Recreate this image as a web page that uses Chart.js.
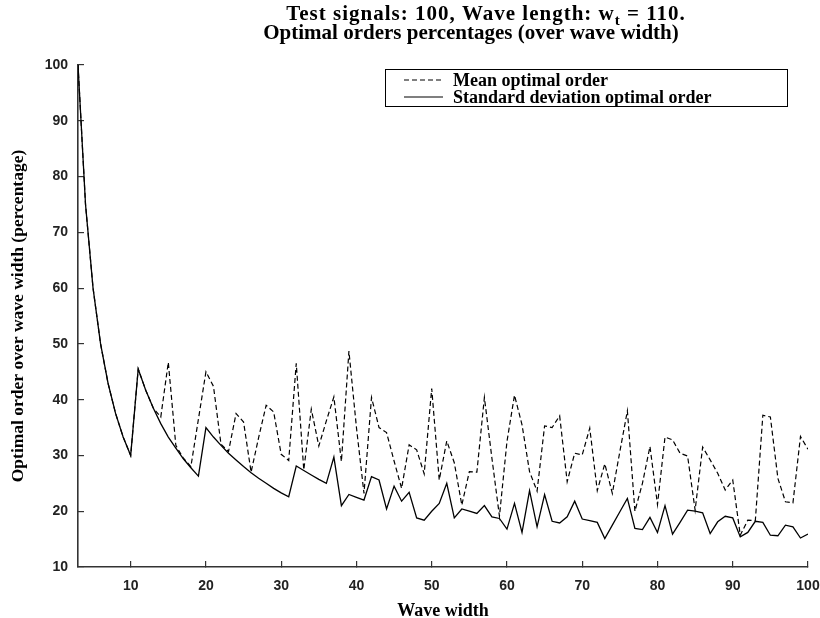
<!DOCTYPE html>
<html><head><meta charset="utf-8">
<script src="https://cdn.jsdelivr.net/npm/chart.js@4.4.1/dist/chart.umd.min.js"></script>
<style>html,body{margin:0;padding:0;background:#fff;}#wrap{width:820px;height:618px;}</style>
</head><body><div id="wrap"><canvas id="c" width="820" height="618"></canvas></div>
<script>
// ---- data ----
const waveWidths = [3,4,5,6,7,8,9,10,11,12,13,14,15,16,17,18,19,20,21,22,23,24,25,26,27,28,29,30,31,32,33,34,35,36,37,38,39,40,41,42,43,44,45,46,47,48,49,50,51,52,53,54,55,56,57,58,59,60,61,62,63,64,65,66,67,68,69,70,71,72,73,74,75,76,77,78,79,80,81,82,83,84,85,86,87,88,89,90,91,92,93,94,95,96,97,98,99,100];
const meanOrder = [100,75,60,50,42.9,37.5,33.3,30,45.5,41.7,38.5,36.9,46.7,31.8,29.5,28,36.5,45,42.4,32,30.7,37.5,36,27,33.2,39,37.8,30.2,29.1,46.5,27.4,38.3,31.7,36.2,40.5,28.9,48.7,35,23.2,40.4,35,34.1,29,24.1,31.9,31,26.7,42,25.6,32.6,28.7,21.1,27.1,27,40.4,29.5,19.1,32.5,40.8,35.5,27.1,23.6,35.3,35,37.1,25.3,30.4,30.1,34.9,23.7,28.5,23.2,30.7,38,20,25,31.6,21.2,33.3,32.8,30.4,29.9,20.2,31.5,29.2,26.8,23.8,25.6,15.7,18.4,18.3,37.2,36.9,25.9,21.7,21.5,33.4,31.1];
const stdOrder = [100,75,60,50,42.9,37.5,33.3,30,45.5,41.7,38.5,35.7,33.3,31.3,29.4,27.8,26.3,35,33.3,31.8,30.4,29.2,28,26.9,25.9,25,24.1,23.3,22.6,28.1,27.3,26.5,25.7,25,29.7,21,23,22.5,22,26.2,25.6,20.4,24.5,21.8,23.4,18.8,18.4,20,21.4,25,18.8,20.4,20,19.6,21,19,18.7,16.8,21.4,16.2,23.7,17.2,23,18.2,17.9,19,21.8,18.6,18.3,18,15.1,17.5,19.9,22.3,16.9,16.7,18.9,16.2,21,15.9,18,20.2,20,19.7,16,18.1,19.1,18.8,15.4,16.2,18.2,18,15.7,15.6,17.5,17.2,15.2,15.9];
const xTickValues = [10,20,30,40,50,60,70,80,90,100];
const yTickValues = [10,20,30,40,50,60,70,80,90,100];
const seriesLabels = ['Mean optimal order','Standard deviation optimal order'];
const titleLine1 = ['Test signals: 100, Wave length: w', 't', ' = 110.'];
const titleLine2 = 'Optimal orders percentages (over wave width)';
const xTitle = 'Wave width';
const yTitle = 'Optimal order over wave width (percentage)';

const SERIF = '"Liberation Serif","Times New Roman",serif';
const SANS = '"Liberation Sans",Arial,Helvetica,sans-serif';

const toPoints = (xs, ys) => xs.map((x, i) => ({x: x, y: ys[i]}));

const overlay = {
  id: 'overlay',
  afterDraw(chart) {
    const ctx = chart.ctx;
    ctx.save();
    ctx.fillStyle = '#000';
    ctx.textBaseline = 'middle';
    // title line 1 with subscript
    const fMain = 'bold 21px ' + SERIF, fSub = 'bold 15px ' + SERIF;
    if ('letterSpacing' in ctx) ctx.letterSpacing = '1px';
    ctx.font = fMain; const w1 = ctx.measureText(titleLine1[0]).width, w3 = ctx.measureText(titleLine1[2]).width;
    ctx.font = fSub; const w2 = ctx.measureText(titleLine1[1]).width;
    let x = 486 - (w1 + w2 + w3) / 2;
    ctx.textAlign = 'left';
    ctx.font = fMain; ctx.fillText(titleLine1[0], x, 15); x += w1;
    ctx.font = fSub; ctx.fillText(titleLine1[1], x, 21); x += w2;
    ctx.font = fMain; ctx.fillText(titleLine1[2], x, 15);
    if ('letterSpacing' in ctx) ctx.letterSpacing = '0px';
    ctx.textAlign = 'center';
    ctx.fillText(titleLine2, 471, 34);
    // legend box
    const bx = 385, by = 69, bw = 402, bh = 37;
    ctx.strokeStyle = '#000'; ctx.lineWidth = 1;
    ctx.fillStyle = '#fff';
    ctx.fillRect(bx, by, bw, bh);
    ctx.strokeRect(bx + 0.5, by + 0.5, bw, bh);
    ctx.fillStyle = '#000';
    ctx.font = 'bold 18px ' + SERIF;
    ctx.textAlign = 'left';
    chart.data.datasets.forEach((ds, i) => {
      const y = by + 11 + i * 17;
      ctx.beginPath();
      ctx.setLineDash(ds.borderDash || []);
      ctx.lineWidth = 1.2;
      ctx.moveTo(404, y); ctx.lineTo(443, y); ctx.stroke();
      ctx.setLineDash([]);
      ctx.fillText(ds.label, 453, y + 1);
    });
    ctx.restore();
  }
};

new Chart(document.getElementById('c'), {
  type: 'line',
  data: {
    datasets: [
      {label: seriesLabels[0], data: toPoints(waveWidths, meanOrder), borderColor: '#000', borderWidth: 1.2, borderDash: [5, 3], pointRadius: 0, fill: false, tension: 0},
      {label: seriesLabels[1], data: toPoints(waveWidths, stdOrder), borderColor: '#000', borderWidth: 1.3, pointRadius: 0, fill: false, tension: 0}
    ]
  },
  options: {
    responsive: false,
    devicePixelRatio: 1,
    animation: false,
    layout: {padding: {left: 0, right: 12, top: 65, bottom: 0}},
    plugins: {legend: {display: false}, title: {display: false}, tooltip: {enabled: false}},
    scales: {
      x: {
        type: 'linear', min: 3, max: 100,
        afterBuildTicks: s => { s.ticks = xTickValues.map(v => ({value: v})); },
        afterFit: s => { s.height = 51; s.paddingRight = 0; s.paddingLeft = 0; },
        grid: {drawOnChartArea: false, drawTicks: true, tickLength: -6, color: '#333', lineWidth: 1.2},
        border: {display: true, color: '#333', width: 1.6},
        ticks: {padding: 17, color: '#222', font: {family: SANS, size: 14, weight: 'bold'}, maxRotation: 0},
        title: {display: true, text: xTitle, color: '#000', padding: {top: 0, bottom: -4}, font: {family: SERIF, size: 18, weight: 'bold'}}
      },
      y: {
        type: 'linear', min: 10, max: 100,
        afterBuildTicks: s => { s.ticks = yTickValues.map(v => ({value: v})); },
        afterFit: s => { s.width = 78; },
        grid: {drawOnChartArea: false, drawTicks: true, tickLength: -6, color: '#333', lineWidth: 1.2},
        border: {display: true, color: '#333', width: 1.6},
        ticks: {padding: 16, color: '#222', font: {family: SANS, size: 14, weight: 'bold'}},
        title: {display: true, text: yTitle, color: '#000', padding: {top: 8, bottom: 0}, font: {family: SERIF, size: 17.5, weight: 'bold'}}
      }
    }
  },
  plugins: [overlay]
});
</script></body></html>
